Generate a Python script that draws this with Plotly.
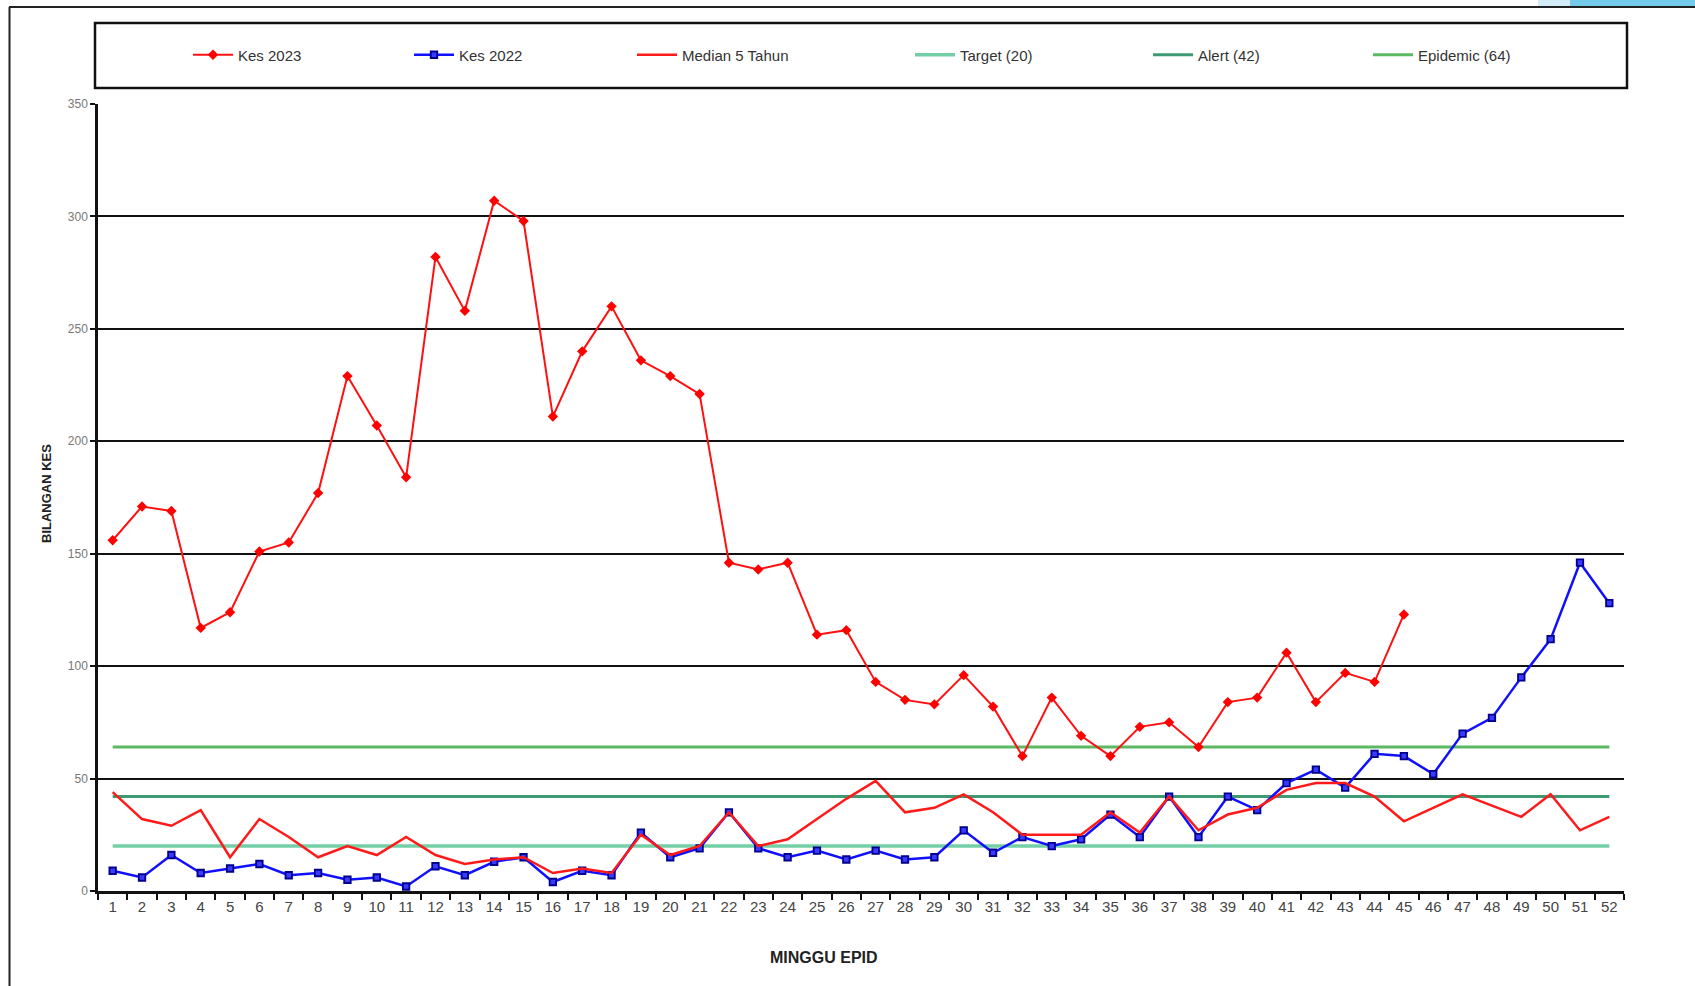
import plotly.graph_objects as go

# ---------------- data ----------------
weeks = [str(i) for i in range(1, 53)]

kes_2023 = [156, 171, 169, 117, 124, 151, 155, 177, 229, 207, 184, 282, 258, 307, 298,
            211, 240, 260, 236, 229, 221, 146, 143, 146, 114, 116, 93, 85, 83, 96,
            82, 60, 86, 69, 60, 73, 75, 64, 84, 86, 106, 84, 97, 93, 123]

kes_2022 = [9, 6, 16, 8, 10, 12, 7, 8, 5, 6, 2, 11, 7, 13, 15,
            4, 9, 7, 26, 15, 19, 35, 19, 15, 18, 14, 18, 14, 15, 27,
            17, 24, 20, 23, 34, 24, 42, 24, 42, 36, 48, 54, 46, 61, 60,
            52, 70, 77, 95, 112, 146, 128]

median_5y = [44, 32, 29, 36, 15, 32, 24, 15, 20, 16, 24, 16, 12, 14, 15,
             8, 10, 8, 25, 16, 20, 35, 20, 23, 32, 41, 49, 35, 37, 43,
             35, 25, 25, 25, 35, 26, 42, 27, 34, 37, 45, 48, 48, 42, 31,
             37, 43, 38, 33, 43, 27, 33]

target_value = 20
alert_value = 42
epidemic_value = 64

series_names = ["Kes 2023", "Kes 2022", "Median 5 Tahun",
                "Target (20)", "Alert (42)", "Epidemic (64)"]
y_ticks = [0, 50, 100, 150, 200, 250, 300, 350]

# ---------------- geometry (pixels) ----------------
W, H = 1695, 986
PL, PR, PT, PB = 98, 1624, 104, 891
pw, ph = PR - PL, PB - PT

def px_x(p):
    return (p - PL) / pw

def px_y(p):
    return (PB - p) / ph

FONT = "Liberation Sans Narrow, Liberation Sans, Arial, sans-serif"

fig = go.Figure()

# threshold lines
fig.add_trace(go.Scatter(x=weeks, y=[target_value] * len(weeks), mode="lines",
                         name=series_names[3], line=dict(color="#72cfa6", width=3.5),
                         legend="legend4", hoverinfo="skip"))
fig.add_trace(go.Scatter(x=weeks, y=[alert_value] * len(weeks), mode="lines",
                         name=series_names[4], line=dict(color="#3e9a72", width=3),
                         legend="legend5", hoverinfo="skip"))
fig.add_trace(go.Scatter(x=weeks, y=[epidemic_value] * len(weeks), mode="lines",
                         name=series_names[5], line=dict(color="#5db862", width=3),
                         legend="legend6", hoverinfo="skip"))

# Kes 2022
fig.add_trace(go.Scatter(x=weeks, y=kes_2022, mode="lines+markers", name=series_names[1],
                         line=dict(color="#1010ff", width=2.5),
                         marker=dict(symbol="square", size=6.5, color="#3a3aff",
                                     line=dict(color="#00008c", width=1.8)),
                         legend="legend2"))
# Median
fig.add_trace(go.Scatter(x=weeks, y=median_5y, mode="lines", name=series_names[2],
                         line=dict(color="#ff1a1a", width=2.5), legend="legend3"))
# Kes 2023
fig.add_trace(go.Scatter(x=weeks[:len(kes_2023)], y=kes_2023, mode="lines+markers",
                         name=series_names[0],
                         line=dict(color="#ff1010", width=2),
                         marker=dict(symbol="diamond", size=8, color="#ff0000"),
                         legend="legend"))

# legends: one per entry, placed like the reference
legend_starts = [186, 407, 630, 908, 1146, 1366]
legend_keys = ["legend", "legend2", "legend3", "legend4", "legend5", "legend6"]
for key, sx in zip(legend_keys, legend_starts):
    fig.update_layout({key: dict(x=px_x(sx + 2), y=px_y(55), xanchor="left", yanchor="middle",
                                 orientation="h", bgcolor="rgba(0,0,0,0)", borderwidth=0,
                                 font=dict(family=FONT, size=15, color="#333333"),
                                 itemwidth=40)})

shapes = [
    # legend frame
    dict(type="rect", xref="paper", yref="paper", x0=px_x(95), x1=px_x(1627),
         y0=px_y(88), y1=px_y(23), line=dict(color="#111111", width=2.5)),
    # outer frame top and left
    dict(type="line", xref="paper", yref="paper", x0=px_x(9), x1=px_x(1695),
         y0=px_y(7), y1=px_y(7), line=dict(color="#222222", width=2)),
    dict(type="line", xref="paper", yref="paper", x0=px_x(9.5), x1=px_x(9.5),
         y0=px_y(7), y1=px_y(986), line=dict(color="#222222", width=2)),
    # little blue corner at top right
    dict(type="rect", xref="paper", yref="paper", x0=px_x(1538), x1=px_x(1570),
         y0=px_y(6), y1=px_y(0), line=dict(width=0), fillcolor="#d3ecf8", layer="below"),
    dict(type="rect", xref="paper", yref="paper", x0=px_x(1570), x1=px_x(1695),
         y0=px_y(6), y1=px_y(0), line=dict(width=0), fillcolor="#74cbea", layer="below"),
]

annotations = [
    dict(text="<b>MINGGU EPID</b>", xref="paper", yref="paper", x=px_x(824), y=px_y(958),
         xanchor="center", yanchor="middle", showarrow=False,
         font=dict(family=FONT, size=16, color="#222222")),
    dict(text="<b>BILANGAN KES</b>", xref="paper", yref="paper", x=px_x(46), y=px_y(493),
         xanchor="center", yanchor="middle", showarrow=False, textangle=-90,
         font=dict(family=FONT, size=13, color="#222222")),
]

fig.update_layout(
    width=W, height=H,
    margin=dict(l=PL, r=W - PR, t=PT, b=H - PB, pad=0),
    paper_bgcolor="white", plot_bgcolor="white",
    shapes=shapes, annotations=annotations,
    showlegend=True,
    xaxis=dict(type="category", categoryorder="array", categoryarray=weeks,
               range=[-0.5, len(weeks) - 0.5], autorange=False,
               tickvals=weeks, ticktext=weeks, tickangle=0,
               showgrid=False, zeroline=False, showline=True, linecolor="#111111", linewidth=2.5,
               ticks="outside", tickson="boundaries", ticklen=6, tickwidth=2, tickcolor="#111111",
               tickfont=dict(family=FONT, size=15, color="#444444"), fixedrange=True),
    yaxis=dict(range=[0, 350], autorange=False, tickvals=y_ticks, showgrid=True,
               gridcolor="#111111", gridwidth=2,
               zeroline=False, showline=True, linecolor="#111111", linewidth=2.5,
               ticks="outside", ticklen=5, tickwidth=2, tickcolor="#111111",
               tickfont=dict(family=FONT, size=12, color="#777777"), fixedrange=True),
)

fig.write_html("out.html", config={"displayModeBar": False},
               post_script="document.body.style.margin='0';")
